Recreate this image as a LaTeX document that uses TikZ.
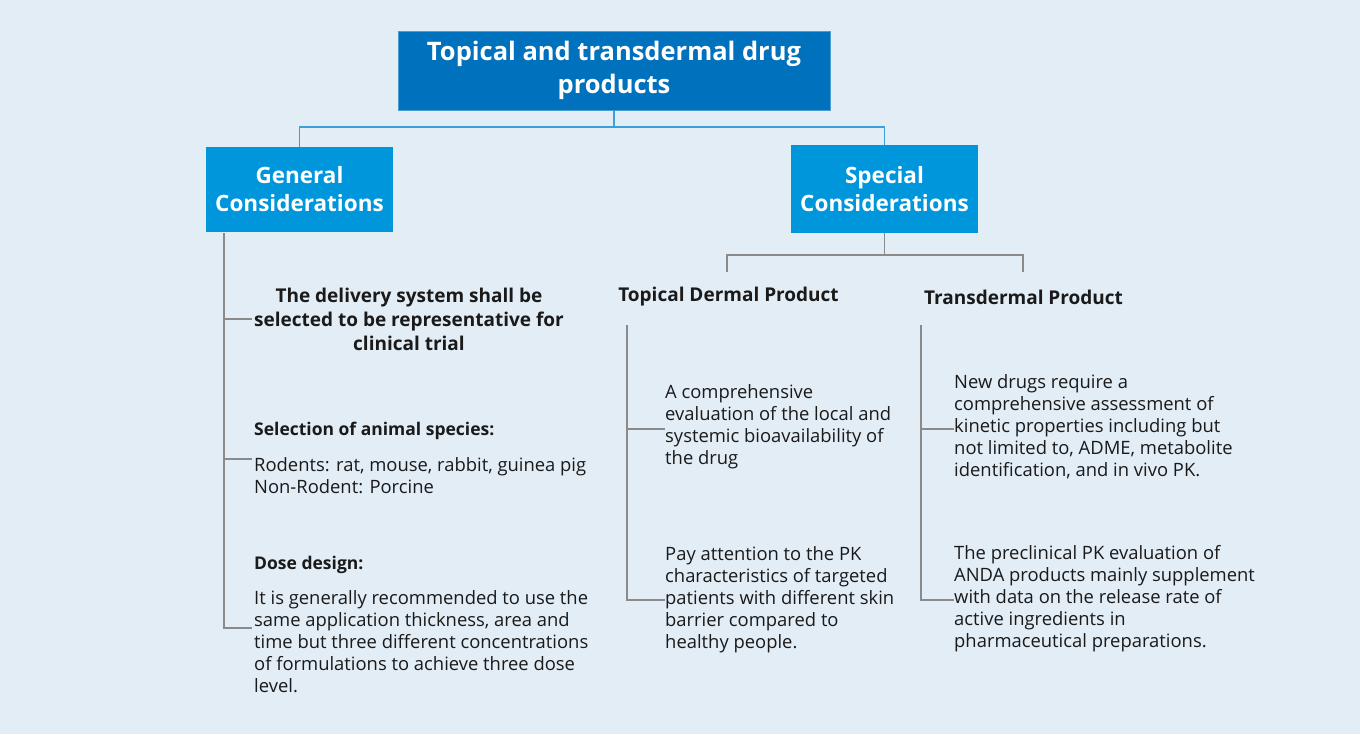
\documentclass[tikz,border=0pt]{standalone}
\usepackage{fontspec}
\setmainfont{Open Sans}
\definecolor{bg}{HTML}{E2EDF6}
\definecolor{titleblue}{HTML}{0071BC}
\definecolor{boxblue}{HTML}{0096DB}
\definecolor{linkblue}{HTML}{3AA0DA}
\definecolor{treegray}{HTML}{8A8A8A}
\definecolor{txt}{HTML}{1A1A1A}
\begin{document}
\begin{tikzpicture}[x=1pt,y=-1pt,
  titlebox/.style={fill=titleblue, draw=titleblue!70!white, line width=0.8pt, text=white, font=\fontsize{25.5}{33}\selectfont\bfseries, align=center, minimum width=432pt, minimum height=79pt, inner sep=0pt},
  catbox/.style={fill=boxblue, text=white, font=\fontsize{22.5}{28}\selectfont\bfseries, align=center, minimum width=187pt, inner sep=0pt},
  body/.style={text=txt, font=\fontsize{18.4}{22}\selectfont, align=left, inner sep=0pt, anchor=west},
  head/.style={body, font=\fontsize{17.5}{24}\selectfont\bfseries},
  bighead/.style={body, font=\fontsize{19}{24}\selectfont\bfseries},
  link/.style={draw=linkblue, line width=1.3pt},
  tree/.style={draw=treegray, line width=1.1pt}]
\fill[bg] (0,0) rectangle (1360,734);
\useasboundingbox (0,0) rectangle (1360,734);

% top level
\node[titlebox] (title) at (614,70.5) {Topical and transdermal drug\\products};
\node[catbox, minimum height=85pt] (gen) at (299.5,189.5) {General\\Considerations};
\node[catbox, minimum height=88pt] (spec) at (884.5,189) {Special\\Considerations};
\coordinate (tj) at (614,127);
\draw[link] (title.south) -- (tj) -| (gen.north);
\draw[link] (tj) -| (spec.north);

% general branch
\node[bighead, align=center, anchor=center] (deliv) at (409,319) {The delivery system shall be\\selected to be representative for\\clinical trial};
\node[head] (sel) at (254,431) {Selection of animal species:};
\node[body] (rod) at (254,475.5) {Rodents: rat, mouse, rabbit, guinea pig\\Non-Rodent: Porcine};
\node[head] (dose) at (254,565) {Dose design:};
\node[body] (dosetxt) at (254,642) {It is generally recommended to use the\\same application thickness, area and\\time but three different concentrations\\of formulations to achieve three dose\\level.};
\coordinate (gtop) at (224,233);
\coordinate (g1) at (224,319);
\coordinate (g2) at (224,459);
\coordinate (g3) at (224,628);
\draw[tree] (gtop) -- (g3) -- (252,628);
\draw[tree] (g1) -- (252,319);
\draw[tree] (g2) -- (252,459);

% special branch
\coordinate (sj) at (884.5,255);
\coordinate (tl) at (727,272);
\coordinate (tr) at (1023,272);
\draw[tree] (spec.south) -- (sj);
\draw[tree] (tl) |- (sj) -| (tr);
\node[bighead, anchor=center] (topd) at (728.5,297) {Topical Dermal Product};
\node[bighead, anchor=center] (trans) at (1023.5,297) {Transdermal Product};

\node[body] (ta) at (665,427) {A comprehensive\\evaluation of the local and\\systemic bioavailability of\\the drug};
\node[body] (tb) at (665,599.5) {Pay attention to the PK\\characteristics of targeted\\patients with different skin\\barrier compared to\\healthy people.};
\node[body] (tc) at (954,427) {New drugs require a\\comprehensive assessment of\\kinetic properties including but\\not limited to, ADME, metabolite\\identification, and in vivo PK.};
\node[body] (td) at (954,599) {The preclinical PK evaluation of\\ANDA products mainly supplement\\with data on the release rate of\\active ingredients in\\pharmaceutical preparations.};

\coordinate (ltop) at (627,325);
\coordinate (lbot) at (627,600);
\draw[tree] (ltop) -- (lbot) -- (tb.west |- lbot);
\draw[tree] (627,429) -- (ta.west |- 0,429);
\coordinate (rtop) at (921,325);
\coordinate (rbot) at (921,600);
\draw[tree] (rtop) -- (rbot) -- (td.west |- rbot);
\draw[tree] (921,429) -- (tc.west |- 0,429);
\end{tikzpicture}
\end{document}
